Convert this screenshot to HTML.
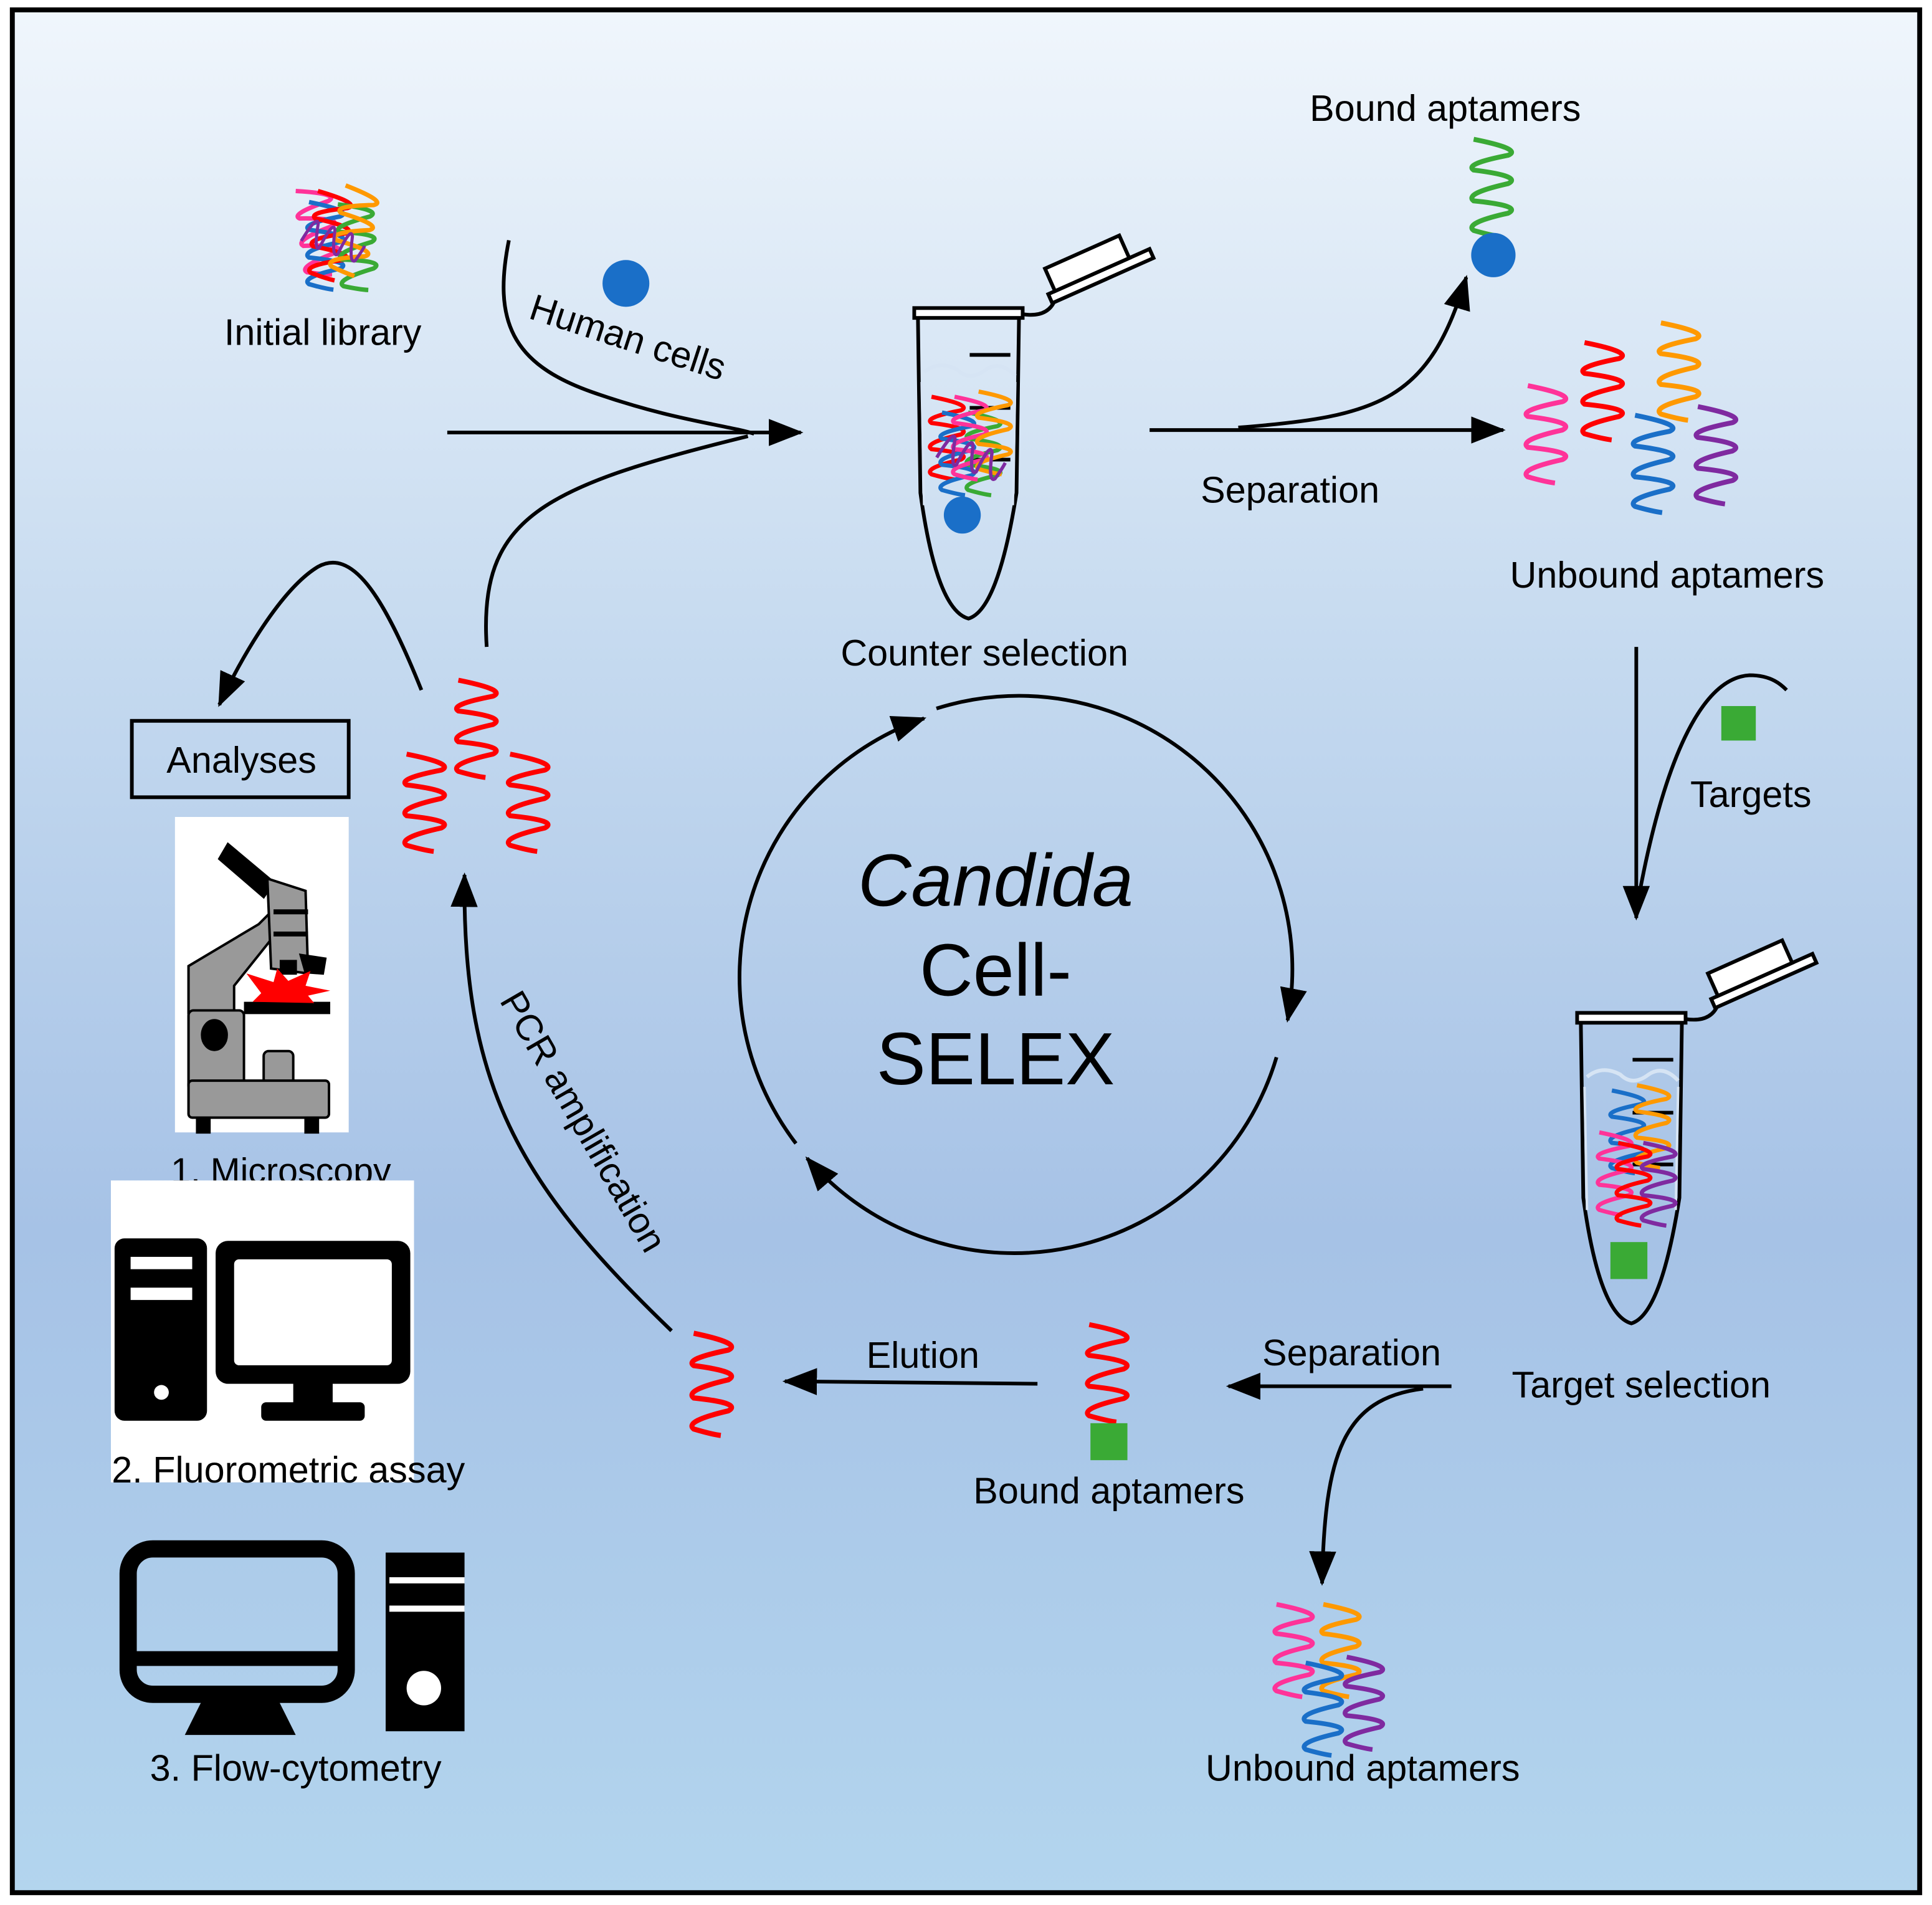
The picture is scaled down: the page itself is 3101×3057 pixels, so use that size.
<!DOCTYPE html>
<html><head><meta charset="utf-8"><style>
html,body{margin:0;padding:0;}
body{width:3101px;height:3057px;overflow:hidden;}
svg{display:block;}
text{font-family:"Liberation Sans",Arial,sans-serif;fill:#000;}
</style></head><body>
<svg width="3101" height="3057" viewBox="0 0 1568 1546" preserveAspectRatio="none" xmlns="http://www.w3.org/2000/svg">
<defs>
<linearGradient id="bg" x1="0" y1="0" x2="0" y2="1">
<stop offset="0" stop-color="#f0f6fc"/>
<stop offset="0.35" stop-color="#c4d9ef"/>
<stop offset="0.65" stop-color="#a6c2e6"/>
<stop offset="1" stop-color="#b3d5ee"/>
</linearGradient>
<marker id="ah" markerUnits="userSpaceOnUse" markerWidth="30" markerHeight="30" viewBox="0 0 30 30" refX="26" refY="15" orient="auto">
<path d="M0,4 L28,15 L0,26 Z" fill="#000"/>
</marker>
<path id="sq" d="M0,0 Q40,8 28,13 Q-8,20 0,25 Q40,30 28,36 Q-8,44 0,50 Q40,54 28,60 Q-8,68 0,74 Q14,78 22,79" fill="none" stroke-width="4"/>
<g id="tube">
<path d="M3,8 L5,150 Q18,245 44,252 Q68,245 83,150 L85,8" fill="none" stroke="#000" stroke-width="3"/>
<path d="M8,52 Q20,42 35,50 Q45,60 58,50 Q70,42 82,55" fill="none" stroke="#d6e4f4" stroke-width="3"/>
<path d="M6,60 L8,160 M82,60 L80,160" stroke="#d6e4f4" stroke-width="2"/>
<rect x="0" y="0" width="88" height="8" fill="#fff" stroke="#000" stroke-width="3"/>
<path d="M45,38 H78 M45,81 H78 M45,123 H78" stroke="#000" stroke-width="3"/>
<path d="M88,5 Q108,8 114,-6" fill="none" stroke="#000" stroke-width="3"/>
<g transform="translate(112,-4) rotate(-24)">
<rect x="0" y="-8" width="90" height="8" fill="#fff" stroke="#000" stroke-width="3"/>
<rect x="6" y="-28" width="66" height="20" fill="#fff" stroke="#000" stroke-width="3"/>
</g>
</g>
</defs>
<rect x="0" y="0" width="1568" height="1546" fill="#fff"/>
<rect x="10" y="8" width="1548" height="1528" fill="url(#bg)" stroke="#000" stroke-width="4"/>

<g transform="translate(240,155) scale(0.9)">
<use href="#sq" stroke="#ff3399" transform="translate(0,0) rotate(-8)"/>
<use href="#sq" stroke="#1a6fc8" transform="translate(12,10)"/>
<use href="#sq" stroke="#ff0000" transform="translate(20,0) rotate(5)"/>
<use href="#sq" stroke="#3aaa35" transform="translate(38,12) rotate(-4)"/>
<use href="#sq" stroke="#ff9900" transform="translate(45,-5) rotate(10)"/>
<use href="#sq" stroke="#7f2aa0" transform="translate(5,45) rotate(-70) scale(0.7)"/>
</g>
<text x="262" y="280" font-size="30" text-anchor="middle">Initial library</text>

<path d="M413,195 C400,260 415,295 480,318 S590,345 612,352" fill="none" stroke="#000" stroke-width="3"/>
<circle cx="508" cy="230" r="19" fill="#1a6fc8"/>
<text x="428" y="258" font-size="30" transform="rotate(18 428 258)">Human cells</text>
<path d="M363,351 L650,351" stroke="#000" stroke-width="3" marker-end="url(#ah)"/>
<path d="M395,525 C388,420 440,395 607,354" fill="none" stroke="#000" stroke-width="3"/>

<use href="#tube" transform="translate(742,250)"/>
<g transform="translate(756,322) scale(0.85)">
<use href="#sq" stroke="#ff0000" transform="translate(0,0)"/>
<use href="#sq" stroke="#1a6fc8" transform="translate(10,15)"/>
<use href="#sq" stroke="#3aaa35" transform="translate(35,15)"/>
<use href="#sq" stroke="#ff3399" transform="translate(22,0)"/>
<use href="#sq" stroke="#ff9900" transform="translate(45,-5)"/>
<use href="#sq" stroke="#7f2aa0" transform="translate(5,58) rotate(-70) scale(0.8)"/>
</g>
<circle cx="781" cy="418" r="15" fill="#1a6fc8"/>
<text x="799" y="540" font-size="30" text-anchor="middle">Counter selection</text>

<path d="M933,349 L1220,349" stroke="#000" stroke-width="3" marker-end="url(#ah)"/>
<path d="M1005,347 C1120,338 1160,325 1190,225" fill="none" stroke="#000" stroke-width="3" marker-end="url(#ah)"/>
<text x="1047" y="408" font-size="30" text-anchor="middle">Separation</text>
<text x="1173" y="98" font-size="30" text-anchor="middle">Bound aptamers</text>
<use href="#sq" stroke="#3aaa35" transform="translate(1196,113)"/>
<circle cx="1212" cy="207" r="18" fill="#1a6fc8"/>
<use href="#sq" stroke="#ff3399" transform="translate(1240,313)"/>
<use href="#sq" stroke="#ff0000" transform="translate(1286,278)"/>
<use href="#sq" stroke="#1a6fc8" transform="translate(1327,337)"/>
<use href="#sq" stroke="#ff9900" transform="translate(1348,262)"/>
<use href="#sq" stroke="#7f2aa0" transform="translate(1378,330)"/>
<text x="1353" y="477" font-size="30" text-anchor="middle">Unbound aptamers</text>

<path d="M1328,525 L1328,745" stroke="#000" stroke-width="3" marker-end="url(#ah)"/>
<path d="M1330,728 C1350,620 1380,550 1420,548 C1438,548 1446,556 1450,560" fill="none" stroke="#000" stroke-width="3"/>
<rect x="1397" y="573" width="28" height="28" fill="#3aaa35"/>
<text x="1421" y="655" font-size="30" text-anchor="middle">Targets</text>

<use href="#tube" transform="translate(1280,822)"/>
<g transform="translate(1298,885) scale(0.85)">
<use href="#sq" stroke="#1a6fc8" transform="translate(12,0)"/>
<use href="#sq" stroke="#ff9900" transform="translate(36,-5)"/>
<use href="#sq" stroke="#ff3399" transform="translate(0,40)"/>
<use href="#sq" stroke="#ff0000" transform="translate(18,50)"/>
<use href="#sq" stroke="#7f2aa0" transform="translate(42,50)"/>
</g>
<rect x="1307" y="1008" width="30" height="30" fill="#3aaa35"/>
<text x="1332" y="1134" font-size="30" text-anchor="middle">Target selection</text>

<path d="M1178,1125 L997,1125" stroke="#000" stroke-width="3" marker-end="url(#ah)"/>
<text x="1097" y="1108" font-size="30" text-anchor="middle">Separation</text>
<path d="M1155,1127 C1090,1135 1075,1180 1073,1285" fill="none" stroke="#000" stroke-width="3" marker-end="url(#ah)"/>
<g transform="translate(1036,1302) scale(0.95)">
<use href="#sq" stroke="#ff3399" transform="translate(0,0)"/>
<use href="#sq" stroke="#ff9900" transform="translate(40,0)"/>
<use href="#sq" stroke="#1a6fc8" transform="translate(25,50)"/>
<use href="#sq" stroke="#7f2aa0" transform="translate(60,45)"/>
</g>
<text x="1106" y="1445" font-size="30" text-anchor="middle">Unbound aptamers</text>

<use href="#sq" stroke="#ff0000" transform="translate(884,1075)"/>
<rect x="885" y="1155" width="30" height="30" fill="#3aaa35"/>
<text x="900" y="1220" font-size="30" text-anchor="middle">Bound aptamers</text>
<path d="M842,1123 L637,1121" stroke="#000" stroke-width="3" marker-end="url(#ah)"/>
<text x="749" y="1110" font-size="30" text-anchor="middle">Elution</text>
<use href="#sq" stroke="#ff0000" transform="translate(563,1082) scale(1,1.05)"/>

<path d="M545,1080 C420,960 375,880 377,710" fill="none" stroke="#000" stroke-width="3" marker-end="url(#ah)"/>
<text x="405" y="812" font-size="30" transform="rotate(60 405 812)">PCR amplification</text>
<use href="#sq" stroke="#ff0000" transform="translate(330,612)"/>
<use href="#sq" stroke="#ff0000" transform="translate(372,552)"/>
<use href="#sq" stroke="#ff0000" transform="translate(414,612)"/>

<path d="M342,560 C310,480 285,445 258,460 C228,478 195,535 178,572" fill="none" stroke="#000" stroke-width="3" marker-end="url(#ah)"/>
<rect x="107" y="585" width="176" height="62" fill="none" stroke="#000" stroke-width="3"/>
<text x="196" y="627" font-size="30" text-anchor="middle">Analyses</text>

<rect x="142" y="663" width="141" height="256" fill="#fff"/>
<g stroke="#000" stroke-width="2">
<path d="M185,685 L222,716 L214,728 L178,697 Z" fill="#000"/>
<path d="M153,784 L210,750 L220,740 L226,755 L190,800 L190,822 L153,822 Z" fill="#999"/>
<path d="M217,713 L248,723 L250,790 L220,786 Z" fill="#999"/>
<path d="M222,740 H250 M222,758 H250" stroke-width="4"/>
<path d="M228,780 L240,780 L240,790 L228,790 Z" fill="#000"/>
<path d="M244,775 L264,778 L262,790 L248,789 Z" fill="#000"/>
<rect x="153" y="820" width="45" height="65" rx="4" fill="#999"/>
<ellipse cx="174" cy="840" rx="10" ry="12" fill="#000"/>
<rect x="214" y="853" width="24" height="30" rx="4" fill="#999"/>
<rect x="153" y="877" width="114" height="30" rx="3" fill="#999"/>
<rect x="160" y="907" width="10" height="12" fill="#000"/>
<rect x="248" y="907" width="10" height="12" fill="#000"/>
</g>
<rect x="198" y="813" width="70" height="10" fill="#000"/>
<path d="M200,790 L222,797 L225,786 L234,796 L252,788 L248,800 L268,804 L250,808 L255,814 L205,813 L212,806 Z" fill="#ff0000"/>
<text x="228" y="960" font-size="29" text-anchor="middle">1. Microscopy</text>

<rect x="90" y="958" width="246" height="245" fill="#fff"/>
<rect x="93" y="1005" width="75" height="148" rx="8" fill="#000"/>
<rect x="106" y="1020" width="50" height="10" fill="#fff"/>
<rect x="106" y="1045" width="50" height="10" fill="#fff"/>
<circle cx="131" cy="1130" r="6" fill="#fff"/>
<rect x="175" y="1007" width="158" height="116" rx="10" fill="#000"/>
<rect x="190" y="1022" width="128" height="86" rx="4" fill="#fff"/>
<rect x="238" y="1120" width="32" height="20" fill="#000"/>
<rect x="212" y="1138" width="84" height="15" rx="4" fill="#000"/>
<text x="234" y="1203" font-size="30" text-anchor="middle">2. Fluorometric assay</text>

<rect x="104" y="1257" width="177" height="118" rx="20" fill="none" stroke="#000" stroke-width="14"/>
<rect x="104" y="1340" width="177" height="12" fill="#000"/>
<path d="M165,1378 L225,1378 L240,1408 L150,1408 Z" fill="#000"/>
<rect x="313" y="1260" width="64" height="145" fill="#000"/>
<rect x="316" y="1280" width="61" height="5" fill="#fff"/>
<rect x="316" y="1303" width="61" height="5" fill="#fff"/>
<circle cx="344" cy="1370" r="14" fill="#fff"/>
<text x="240" y="1445" font-size="30" text-anchor="middle">3. Flow-cytometry</text>

<g fill="none" stroke="#000" stroke-width="3">
<path d="M760,575 A222,222 0 0 1 1045,828" marker-end="url(#ah)"/>
<path d="M1036,858 A222,222 0 0 1 655,940" marker-end="url(#ah)"/>
<path d="M646,928 A222,222 0 0 1 750,583" marker-end="url(#ah)"/>
</g>
<text x="808" y="735" font-size="60" font-style="italic" text-anchor="middle">Candida</text>
<text x="808" y="808" font-size="60" text-anchor="middle">Cell-</text>
<text x="808" y="880" font-size="60" text-anchor="middle">SELEX</text>
</svg>
</body></html>
